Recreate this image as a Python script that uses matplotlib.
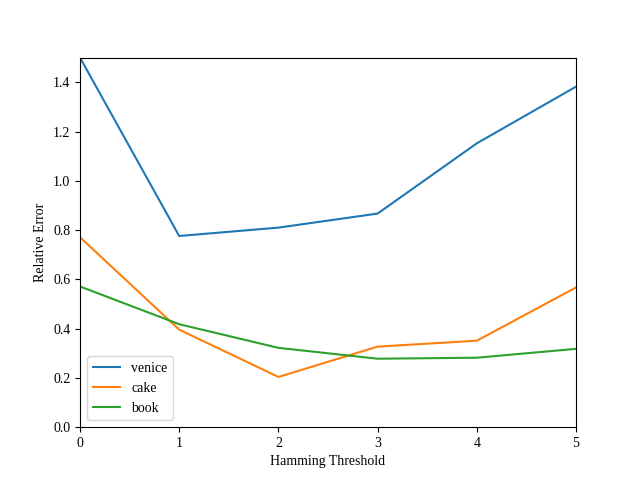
import matplotlib
matplotlib.use("Agg")
import matplotlib.pyplot as plt

plt.rcParams['font.family'] = ['Liberation Serif', 'DejaVu Serif']

thresholds = [0, 1, 2, 3, 4, 5]
venice = [1.50, 0.776, 0.810, 0.867, 1.152, 1.382]
cake = [0.771, 0.396, 0.204, 0.327, 0.351, 0.567]
book = [0.571, 0.418, 0.322, 0.278, 0.282, 0.318]

fig, ax = plt.subplots(figsize=(6.4, 4.8), dpi=100)
ax.plot(thresholds, venice, label='venice')
ax.plot(thresholds, cake, label='cake')
ax.plot(thresholds, book, label='book')
ax.set_xlim(0, 5)
ax.set_ylim(0, 1.5)
ax.set_xlabel('Hamming Threshold')
ax.set_ylabel('Relative Error')
ax.legend(loc='lower left')
fig.savefig('out.png')
